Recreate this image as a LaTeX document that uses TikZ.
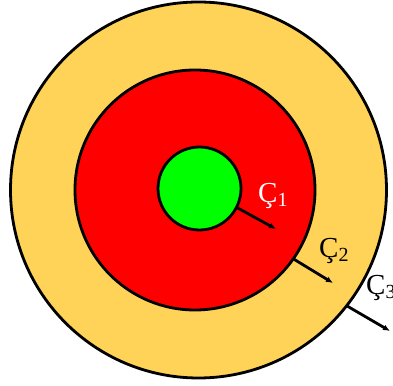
\documentclass[tikz,border=0pt]{standalone}
\usepackage{fontspec}
\setmainfont{Liberation Serif}
\usetikzlibrary{arrows.meta}
\definecolor{shellyellow}{RGB}{254,211,88}
\definecolor{midred}{RGB}{255,0,0}
\definecolor{coregreen}{RGB}{0,255,0}
\newcommand{\cmark}[1]{Ç\raisebox{-4pt}{\fontsize{20}{20}\selectfont #1}}

\begin{document}
\begin{tikzpicture}[x=1pt,y=1pt,>=Latex,
    ring/.style={circle,draw,line width=2.8pt,inner sep=0pt,outer sep=0pt},
    push/.style={-{Latex[length=7pt,width=6pt]},line width=2.8pt,shorten <=-1pt},
    tag/.style={anchor=base west,inner sep=0pt,font=\fontsize{29}{30}\selectfont}]
  \useasboundingbox (0,0) rectangle (393,385);
  % the three shells
  \node[ring,fill=shellyellow,minimum size=376] (outer) at (198.5,195) {};
  \node[ring,fill=midred,minimum size=240] (middle) at (195,195) {};
  \node[ring,fill=coregreen,minimum size=83] (core) at (199.5,196.5) {};

  \coordinate (t1) at (276,156);
  \coordinate (t2) at (333,102);
  \coordinate (t3) at (390,54);
  \draw[push] (core.-27) -- (t1);
  \draw[push] (middle.-35) -- (t2);
  \draw[push] (outer.-38) -- (t3);

  \node[tag,white] (c1) at (258,182) {\cmark{1}};
  \node[tag] (c2) at (319,127) {\cmark{2}};
  \node[tag] (c3) at (366,90) {\cmark{3}};
\end{tikzpicture}
\end{document}
